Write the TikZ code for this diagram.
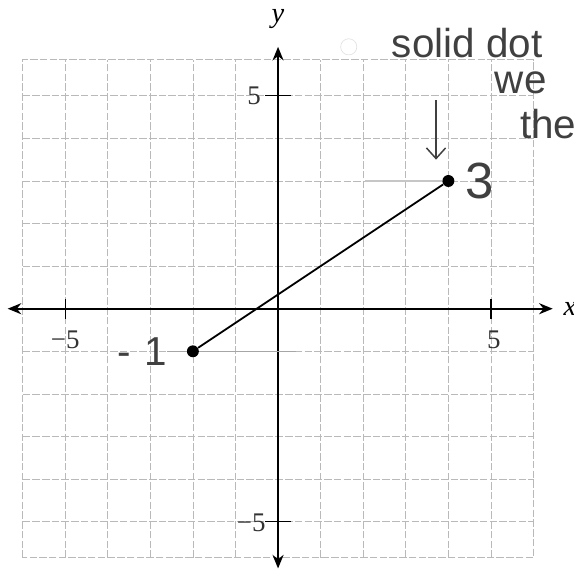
\documentclass[tikz,border=0pt]{standalone}
\usepackage{fontspec}
\newfontfamily\handfont{Liberation Sans}
\newfontfamily\tickfont{Liberation Serif}
\usetikzlibrary{arrows.meta}

\begin{document}
\begin{tikzpicture}[
  gridline/.style={gray!55,line width=.5pt,dash pattern=on 5pt off 1.5pt},
  axis/.style={line width=1.1pt,{Stealth[length=3.2mm,width=2.6mm]}-{Stealth[length=3.2mm,width=2.6mm]}},
  tick/.style={line width=.8pt},
  ticklabel/.style={font=\tickfont\fontsize{18}{18}\selectfont,text=black!80,inner sep=0pt},
  point/.style={circle,fill=black,inner sep=0pt,minimum size=2.8mm},
  hand/.style={font=\handfont\fontsize{27}{27}\selectfont,text=black!75,inner sep=0pt},
  pencil/.style={gray!70,line width=.8pt},
  handarrow/.style={black!75,line width=1pt,-{Straight Barb[length=2.5mm,width=4.5mm]}}
]
  \useasboundingbox (-6.53,-6.2) rectangle (6.95,7.25);
  \foreach \i in {-5,...,5} {
    \draw[gridline] (\i,-5.85) -- (\i,5.85);
    \draw[gridline] (-6,\i) -- (6,\i);
  }
  \draw[gridline] (-6,-5.85) rectangle (6,5.85);

  \coordinate (xl) at (-6.35,0);
  \coordinate (xr) at (6.45,0);
  \coordinate (yb) at (0,-6.1);
  \coordinate (yt) at (0,6.15);
  \draw[axis] (xl) -- (xr);
  \draw[axis] (yb) -- (yt);
  \node[anchor=west,inner sep=0pt] (xlab) at (6.7,0) {\tickfont\fontsize{19}{19}\selectfont\itshape x};
  \node[inner sep=0pt] (ylab) at (0,6.8) {\tickfont\fontsize{19}{19}\selectfont\itshape y};

  \foreach \t in {-5,5} {
    \draw[tick] (\t,-.23) -- (\t,.23);
    \draw[tick] (-.3,\t) -- (.3,\t);
  }
  \node[ticklabel] (xm5) at (-5,-.73) {\char"2212 5};
  \node[ticklabel] (xp5) at (5.07,-.73) {5};
  \node[ticklabel] (yp5) at (-.56,5) {5};
  \node[ticklabel] (ym5) at (-.63,-5.02) {\char"2212 5};

  \node[point] (P) at (-2,-1) {};
  \node[point] (Q) at (4,3) {};
  \coordinate (p1) at (.42,-1);
  \coordinate (q1) at (2.05,3);
  \draw[pencil] (P) -- (p1);
  \draw[pencil,gray!45] (Q) -- (q1);
  \draw[line width=1.2pt] (P) -- (Q);

  \node[hand] (minusone) at (-3.19,-1) {-\hspace{3mm}1};
  \draw[pencil] (minusone) -- (P);
  \node[hand,font=\handfont\fontsize{34}{34}\selectfont] (three) at (4.74,3) {3};

  \coordinate (a0) at (3.71,4.9);
  \coordinate (a1) at (3.71,3.5);
  \draw[handarrow] (a0) -- (a1);

  \node[circle,draw=gray!25,inner sep=0pt,minimum size=3.8mm] (ring) at (1.66,6.15) {};
  \node[hand,anchor=base] (solid) at (4.44,5.9) {solid dot};
  \node[hand,anchor=base] (we) at (5.7,5.05) {we};
  \node[hand,anchor=west] (the) at (5.68,4.34) {the};
\end{tikzpicture}
\end{document}
